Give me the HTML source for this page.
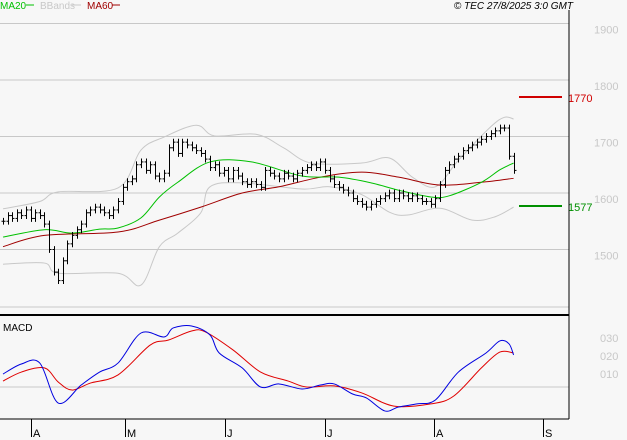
<!DOCTYPE html>
<html><head><meta charset="utf-8"><style>
html,body{margin:0;padding:0;background:#f7f7f7;}
svg{display:block;font-family:"Liberation Sans",sans-serif;}
</style></head><body>
<svg id="c" width="627" height="440" viewBox="0 0 627 440">
<rect x="0" y="0" width="627" height="440" fill="#f7f7f7"/>
<g id="grid"></g>
<g id="bands"></g>
<g id="mas"></g>
<g id="bars"></g>
<g id="macd"></g>
<g id="axes"></g>
<g>
<text x="0" y="9" font-size="10" fill="#00c000">MA20</text>
<line x1="26" y1="5" x2="34" y2="5" stroke="#00c000" stroke-width="1"/>
<text x="40" y="9" font-size="10" fill="#c8c8c8">BBands</text>
<line x1="72" y1="5" x2="81" y2="5" stroke="#c8c8c8"/>
<text x="87" y="9" font-size="10" fill="#a00000">MA60</text>
<line x1="112" y1="5" x2="120" y2="5" stroke="#a00000"/>
<text x="573" y="9" font-size="10" font-style="italic" text-anchor="end" fill="#000">© TEC 27/8/2025 3:0 GMT</text>
</g>
</svg>
<script>
const closes=[1550,1560,1555,1565,1560,1570,1555,1565,1560,1545,1500,1460,1445,1480,1510,1525,1535,1545,1565,1570,1575,1570,1565,1560,1570,1585,1610,1620,1625,1650,1655,1640,1650,1630,1625,1635,1680,1690,1670,1690,1685,1680,1675,1670,1660,1645,1650,1635,1640,1625,1640,1630,1620,1615,1620,1615,1610,1640,1635,1630,1625,1635,1630,1625,1635,1640,1645,1650,1645,1655,1640,1625,1615,1610,1605,1600,1590,1585,1580,1575,1580,1585,1590,1595,1600,1590,1600,1595,1590,1595,1590,1585,1585,1580,1590,1615,1640,1650,1660,1665,1675,1680,1685,1690,1695,1700,1705,1710,1715,1715,1665,1640];
const ma20=[[0,1522],[9,1535],[15,1529],[21,1536],[25,1538],[30,1556],[34,1593],[38,1619],[45,1655],[54,1655],[65,1630],[73,1628],[80,1618],[86,1605],[93,1593],[97,1595],[104,1619],[108,1641],[111,1653]];
const ma60=[[0,1505],[9,1525],[25,1531],[34,1552],[43,1575],[52,1600],[60,1611],[69,1628],[78,1637],[86,1628],[95,1614],[104,1619],[111,1626]];
const bbUpper=[[0,1572],[8,1585],[12,1602],[25,1609],[30,1676],[35,1699],[42,1720],[46,1701],[55,1704],[61,1680],[67,1653],[78,1653],[84,1662],[89,1628],[94,1611],[99,1658],[106,1717],[109,1734],[111,1731]];
const bbLower=[[0,1474],[9,1476],[12,1458],[25,1458],[30,1437],[34,1505],[38,1529],[43,1565],[45,1611],[52,1618],[65,1607],[71,1611],[78,1597],[84,1566],[88,1561],[95,1573],[102,1552],[107,1558],[111,1575]];
const macdLine=[[0,0.072],[4,0.128],[8,0.133],[12,-0.089],[17,0.011],[21,0.083],[25,0.133],[30,0.3],[35,0.278],[37,0.328],[41,0.339],[45,0.289],[47,0.189],[52,0.106],[56,0],[60,0.017],[65,-0.011],[69,0.011],[72,0.017],[76,-0.039],[79,-0.061],[83,-0.133],[86,-0.111],[90,-0.094],[94,-0.072],[99,0.083],[105,0.189],[108,0.256],[110,0.24],[111,0.178]];
const signalLine=[[0,0.033],[4,0.083],[9,0.106],[12,0.028],[15,-0.017],[19,0.022],[25,0.067],[32,0.233],[36,0.261],[41,0.311],[44,0.306],[50,0.206],[56,0.083],[62,0.033],[66,0],[72,0.006],[78,-0.033],[85,-0.106],[93,-0.094],[98,-0.05],[104,0.106],[108,0.194],[111,0.189]];
const priceTicks=[1900,1800,1700,1600,1500];
const macdTicks=[0.30,0.20,0.10];
const monthLabels=["A","M","J","J","A","S"];
const monthStartIdx=[6,26.5,48.2,70,93.7,117.3];
const levels=[1770,1577];
const levelColors=["#d00000","#009000"];

const NS="http://www.w3.org/2000/svg";
const xs=i=>3+i*4.6;
const yp=v=>193-(v-1600)*0.565;
const ym=v=>387-v*180;
function mk(tag,attrs,parent){const e=document.createElementNS(NS,tag);for(const k in attrs)e.setAttribute(k,attrs[k]);parent.appendChild(e);return e;}
const G=id=>document.getElementById(id);

priceTicks.forEach(t=>{
  const l=mk('line',{x1:0,x2:569,y1:yp(t),y2:yp(t),stroke:'#c8c8c8'},G('grid'));
  
  
  const tx=mk('text',{x:594,y:yp(t)+10,'font-size':11,fill:'#c8c8c8'},G('axes'));
  tx.textContent=t;
  
  
});
const g307=mk('line',{x1:0,x2:569,y1:307,y2:307,stroke:'#c8c8c8'},G('grid'));



function poly(arr,yf,col,parent,name,w){
  const P=arr.map(d=>[xs(d[0]),yf(d[1])]);
  let s='M'+P[0][0]+','+P[0][1];
  for(let i=0;i<P.length-1;i++){
    const p0=P[i-1]||P[i],p1=P[i],p2=P[i+1],p3=P[i+2]||P[i+1];
    const c1=[p1[0]+(p2[0]-p0[0])/6,p1[1]+(p2[1]-p0[1])/6];
    const c2=[p2[0]-(p3[0]-p1[0])/6,p2[1]-(p3[1]-p1[1])/6];
    s+=' C'+c1+' '+c2+' '+p2;
  }
  const p=mk('path',{d:s,fill:'none',stroke:col,'stroke-width':w||1},parent);
  
  
}
poly(bbUpper,yp,'#c8c8c8',G('bands'),'bband-upper');
poly(bbLower,yp,'#c8c8c8',G('bands'),'bband-lower');
poly(ma60,yp,'#a00000',G('mas'),'ma60-line');
poly(ma20,yp,'#00c000',G('mas'),'ma20-line');

closes.forEach((c,i)=>{
  const o=i>0?closes[i-1]:c;
  const hi=Math.max(o,c)+6, lo=Math.min(o,c)-6;
  const x=Math.round(xs(i))+0.5;
  const g=mk('g',{},G('bars'));
  
  
  mk('line',{x1:x,x2:x,y1:yp(hi),y2:yp(lo),stroke:'#000'},g);
  mk('line',{x1:x-2,x2:x,y1:yp(o),y2:yp(o),stroke:'#000'},g);
  mk('line',{x1:x,x2:x+2,y1:yp(c),y2:yp(c),stroke:'#000'},g);
});

levels.forEach((v,k)=>{
  const l=mk('line',{x1:519,x2:562,y1:yp(v),y2:yp(v),stroke:levelColors[k],'stroke-width':2},G('axes'));
  
  
  const t=mk('text',{x:568,y:yp(v)+5,'font-size':11,fill:levelColors[k]},G('axes'));
  t.textContent=v;
  
  
});

const z=mk('line',{x1:0,x2:569,y1:ym(0),y2:ym(0),stroke:'#c8c8c8'},G('macd'));


const mt=mk('text',{x:3,y:331,'font-size':10,fill:'#000'},G('macd'));
mt.textContent='MACD';


poly(signalLine,ym,'#e00000',G('macd'),'macd-signal-line');
poly(macdLine,ym,'#0000e0',G('macd'),'macd-line');
macdTicks.forEach(t=>{
  const tx=mk('text',{x:600,y:ym(t)+9,'font-size':11,fill:'#c8c8c8'},G('axes'));
  tx.textContent=t.toFixed(2).replace('0.','0');
  
  
});

const ax=G('axes');
[[569,10,569,419,1],[0,419,569,419,1],[0,315,569,315,2]].forEach((d,k)=>{
  const l=mk('line',{x1:d[0],y1:d[1],x2:d[2],y2:d[3],stroke:'#000','stroke-width':d[4]},ax);
  
  
});
monthLabels.forEach((m,k)=>{
  const x=Math.round(xs(monthStartIdx[k]))+0.5;
  const l=mk('line',{x1:x,x2:x,y1:419,y2:437,stroke:'#000'},ax);
  
  
  const t=mk('text',{x:x+1.5,y:437,'font-size':11,fill:'#000'},ax);
  t.textContent=m;
  
  
});
</script>
</body></html>
